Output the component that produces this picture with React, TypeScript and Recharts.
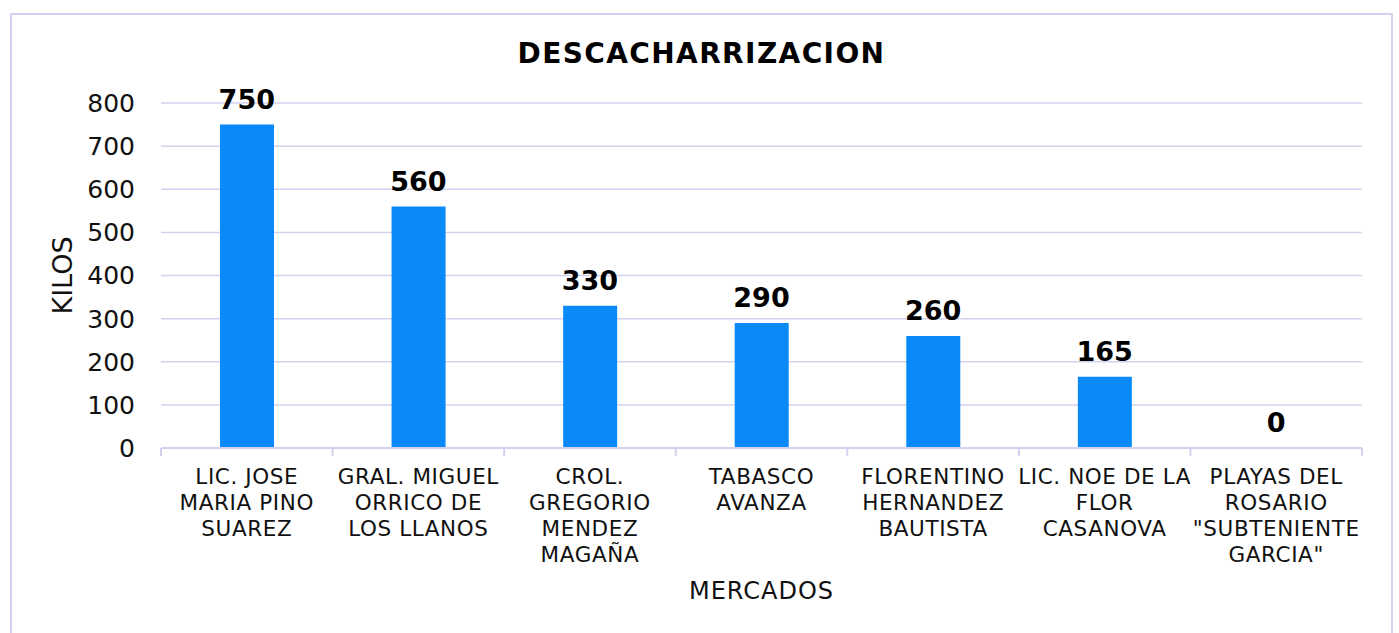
import React from "react";
import { ComposedChart, Bar, Line, XAxis, YAxis, CartesianGrid, LabelList, Label } from "recharts";

const mercados = [
  "LIC. JOSE\nMARIA PINO\nSUAREZ",
  "GRAL. MIGUEL\nORRICO DE\nLOS LLANOS",
  "CROL.\nGREGORIO\nMENDEZ\nMAGAÑA",
  "TABASCO\nAVANZA",
  "FLORENTINO\nHERNANDEZ\nBAUTISTA",
  "LIC. NOE DE LA\nFLOR\nCASANOVA",
  "PLAYAS DEL\nROSARIO\n\"SUBTENIENTE\nGARCIA\"",
];
const kilos = [750, 560, 330, 290, 260, 165, 0];
const yTicks = [0, 100, 200, 300, 400, 500, 600, 700, 800];

const data = mercados.map((m, i) => ({ mercado: m, kilos: kilos[i] }));

const FONT = "'DejaVu Sans', Verdana, sans-serif";
const GRID = "#d2d2f0";
const BLUE = "#0A8AF8";

const W = 1379;
const H = 636;
const M = { top: 88, right: 29, left: 89, bottom: 53 };
const PLOT_LEFT = 149;
const PLOT_BOTTOM = 433;
const BAND = (W - PLOT_LEFT - M.right) / mercados.length;

const MercadoTick = (props: any) => {
  const { x, payload, index } = props;
  const lines = String(payload.value).split("\n");
  return (
    <g>
      <line x1={x - BAND / 2} x2={x - BAND / 2} y1={PLOT_BOTTOM} y2={PLOT_BOTTOM + 8} stroke={GRID} strokeWidth={2} />
      {index === mercados.length - 1 && (
        <line x1={x + BAND / 2} x2={x + BAND / 2} y1={PLOT_BOTTOM} y2={PLOT_BOTTOM + 8} stroke={GRID} strokeWidth={2} />
      )}
      <text textAnchor="middle" fontSize={21.5} letterSpacing={0.6} fill="#111" fontFamily={FONT}>
        {lines.map((l, i) => (
          <tspan key={i} x={x} y={PLOT_BOTTOM + 36 + i * 26}>
            {l}
          </tspan>
        ))}
      </text>
    </g>
  );
};

export default function App() {
  return (
    <div
      style={{
        position: "absolute",
        left: 10,
        top: 13,
        width: W + 4,
        height: H + 4,
        border: `2px solid ${GRID}`,
        boxSizing: "border-box",
        background: "#fff",
      }}
    >
      <ComposedChart width={W} height={H} data={data} margin={M}>
        <text x={W / 2} y={48} textAnchor="middle" fontSize={28} fontWeight="bold" letterSpacing={1.4} fontFamily={FONT} fill="#000">
          DESCACHARRIZACION
        </text>
        <CartesianGrid vertical={false} stroke={GRID} strokeWidth={1.5} />
        <XAxis
          dataKey="mercado"
          interval={0}
          height={150}
          tickLine={false}
          axisLine={{ stroke: GRID, strokeWidth: 2 }}
          tick={<MercadoTick />}
        >
          <Label
            content={(p: any) => (
              <text
                x={p.viewBox.x + p.viewBox.width / 2}
                y={584}
                textAnchor="middle"
                fontSize={24}
                letterSpacing={1}
                fontFamily={FONT}
                fill="#111"
              >
                MERCADOS
              </text>
            )}
          />
        </XAxis>
        <YAxis
          width={60}
          domain={[0, 800]}
          ticks={yTicks}
          interval={0}
          axisLine={false}
          tickLine={false}
          tickMargin={20}
          tick={{ fontSize: 25, fill: "#111", fontFamily: FONT }}
        >
          <Label
            content={(p: any) => (
              <text
                x={50}
                y={p.viewBox.y + p.viewBox.height / 2}
                textAnchor="middle"
                dominantBaseline="central"
                transform={`rotate(-90, 50, ${p.viewBox.y + p.viewBox.height / 2})`}
                fontSize={27}
                fontFamily={FONT}
                fill="#111"
              >
                KILOS
              </text>
            )}
          />
        </YAxis>
        <Bar dataKey="kilos" fill={BLUE} barSize={54} isAnimationActive={false} />
        <Line
          dataKey="kilos"
          stroke="none"
          dot={false}
          activeDot={false}
          legendType="none"
          isAnimationActive={false}
        >
          <LabelList
            dataKey="kilos"
            position="top"
            offset={16}
            fill="#000"
            fontSize={27}
            fontWeight="bold"
            fontFamily={FONT}
          />
        </Line>
      </ComposedChart>
    </div>
  );
}
